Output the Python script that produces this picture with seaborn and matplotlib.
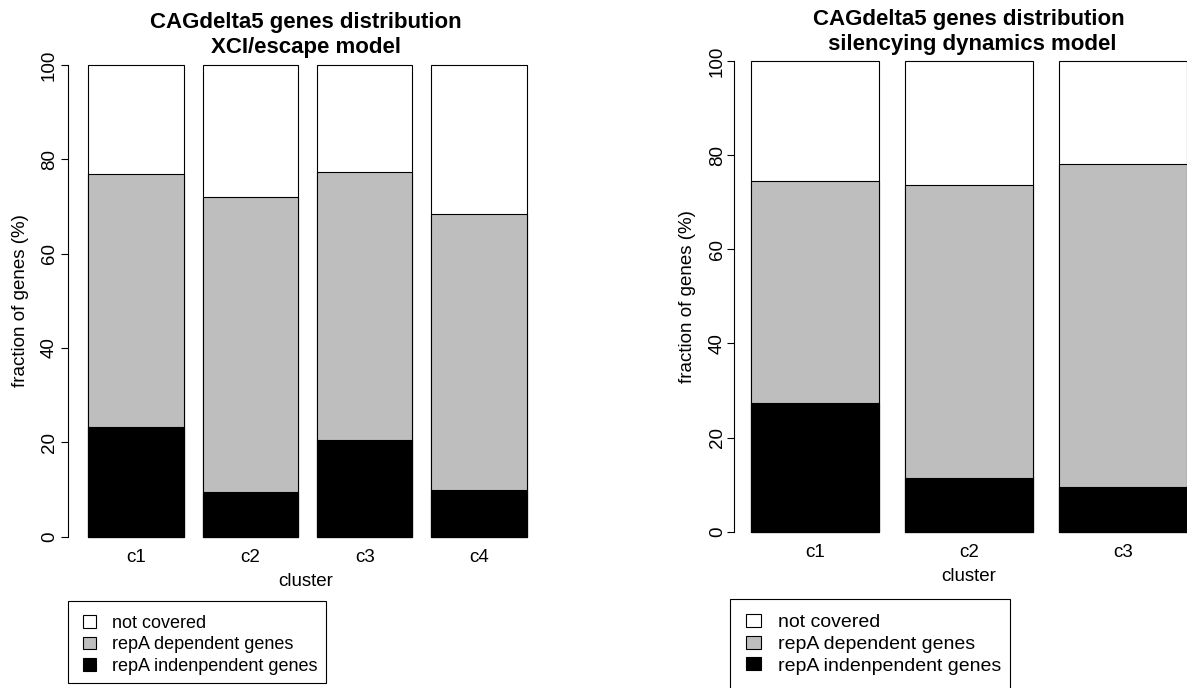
import matplotlib
matplotlib.use("Agg")
import matplotlib.pyplot as plt
from matplotlib.patches import Patch, Rectangle
import numpy as np
import pandas as pd
import seaborn as sns

# ---- data -------------------------------------------------------------
# XCI/escape model clusters (percent of genes)
xci_clusters = ["c1", "c2", "c3", "c4"]
xci_independent = [23.3, 9.5, 20.5, 10.0]
xci_dependent = [53.5, 62.5, 56.75, 58.35]
xci_not_covered = [23.2, 28.0, 22.75, 31.65]

# silencing dynamics model clusters (percent of genes)
sil_clusters = ["c1", "c2", "c3"]
sil_independent = [27.3, 11.4, 9.5]
sil_dependent = [47.2, 62.2, 68.55]
sil_not_covered = [25.5, 26.4, 21.95]

legend_labels = ["not covered", "repA dependent genes", "repA indenpendent genes"]
fill_colors = ["white", "#bebebe", "black"]
y_ticks = [0, 20, 40, 60, 80, 100]

# ---- style ------------------------------------------------------------
sns.set_style("white")
plt.rcParams["font.family"] = ["Liberation Sans", "DejaVu Sans"]
plt.rcParams.update({
    "text.color": "black",
    "axes.labelcolor": "black",
    "xtick.color": "black",
    "ytick.color": "black",
    "axes.edgecolor": "black",
})

W, H = 1187, 688
fig = plt.figure(figsize=(W / 100, H / 100), dpi=100)


def fx(px):
    return px / W


def fy(py):
    return 1 - py / H


BAR_W = 1 / 1.2  # bar width relative to bar spacing (space = 0.2)


def stacked_panel(ax, clusters, independent, dependent, not_covered,
                  title_lines, title_y, xlim, ylab_x, xlab_y, ytick_pad):
    df = pd.DataFrame({
        "cluster": clusters,
        "independent": independent,
        "dependent": dependent,
        "not_covered": not_covered,
    })
    layers = [
        df[["independent", "dependent", "not_covered"]].sum(axis=1),
        df[["independent", "dependent"]].sum(axis=1),
        df["independent"],
    ]
    # draw from the full stack down so each segment covers the one below
    for heights, color in zip(layers, fill_colors):
        sns.barplot(x=df["cluster"], y=heights, order=clusters, color=color,
                    saturation=1, width=BAR_W, edgecolor="black",
                    linewidth=0.8, ax=ax)

    ax.set_xlim(*xlim)
    ax.set_ylim(-4, 104)
    for side in ("top", "right", "bottom"):
        ax.spines[side].set_visible(False)
    ax.spines["left"].set_bounds(0, 100)
    ax.spines["left"].set_linewidth(0.8)
    ax.spines["left"].set_color("black")

    ax.set_yticks(y_ticks)
    ax.set_yticklabels([str(t) for t in y_ticks], rotation=90,
                       va="center", fontsize=13.5, color="black")
    ax.tick_params(axis="y", length=5.0, width=0.8, color="black",
                   labelcolor="black", pad=ytick_pad, left=True)
    ax.tick_params(axis="x", length=0, pad=-4.7, labelsize=13.5,
                   labelcolor="black")

    ax.set_xlabel("cluster", fontsize=13.5, va="center", color="black")
    ax.xaxis.set_label_coords(0.5, xlab_y)
    ax.set_ylabel("fraction of genes (%)", fontsize=13.5, va="center",
                  color="black")
    ax.yaxis.set_label_coords(ylab_x, 0.5)

    for line, y in zip(title_lines, title_y):
        ax.text(0.5, y, line, transform=ax.transAxes, ha="center",
                va="baseline", fontsize=16, fontweight="bold", color="black")


# left panel: plot region 67.7..544.2 px wide, 46.1..555.6 px tall
ax1 = fig.add_axes([fx(67.7), fy(555.6), 476.5 / W, 509.5 / H])
stacked_panel(ax1, xci_clusters, xci_independent, xci_dependent,
              xci_not_covered,
              ["CAGdelta5 genes distribution", "XCI/escape model"],
              [1.0349, 0.9859], (-0.5967, 3.57), -0.1001, -0.0512, 2.0)

# right panel: extends past the right edge of the canvas
ax2 = fig.add_axes([fx(733.5), fy(550.5), 471.1 / W, 508.4 / H])
stacked_panel(ax2, sil_clusters, sil_independent, sil_dependent,
              sil_not_covered,
              ["CAGdelta5 genes distribution", " silencying dynamics model"],
              [1.0338, 0.9846], (-0.53, 2.53), -0.0987, -0.0515, 0.5)

handles = [Patch(facecolor=c, edgecolor="black", linewidth=0.8)
           for c in fill_colors]


def boxed_legend(ax, anchor_px, box_px, fontsize, handlelength,
                 handleheight, handletextpad, labelspacing):
    leg = ax.legend(handles=handles, labels=legend_labels, loc="upper left",
                    bbox_to_anchor=(fx(anchor_px[0]), fy(anchor_px[1])),
                    bbox_transform=fig.transFigure, frameon=False,
                    borderpad=0, borderaxespad=0, fontsize=fontsize,
                    handlelength=handlelength, handleheight=handleheight,
                    handletextpad=handletextpad, labelspacing=labelspacing)
    for t in leg.get_texts():
        t.set_color("black")
    x0, y0, x1, y1 = box_px
    fig.add_artist(Rectangle((fx(x0), fy(y1)), (x1 - x0) / W, (y1 - y0) / H,
                             transform=fig.transFigure, fill=False,
                             edgecolor="black", linewidth=0.8))


boxed_legend(ax1, (83.3, 615.1), (68.3, 600.7, 326.0, 683.3), 13,
             0.73, 0.7, 0.87, 0.24)
boxed_legend(ax2, (746.4, 614.1), (730.0, 599.3, 1009.7, 696.0), 14,
             0.77, 0.65, 0.84, 0.22)

fig.savefig("out.png", dpi=100)
